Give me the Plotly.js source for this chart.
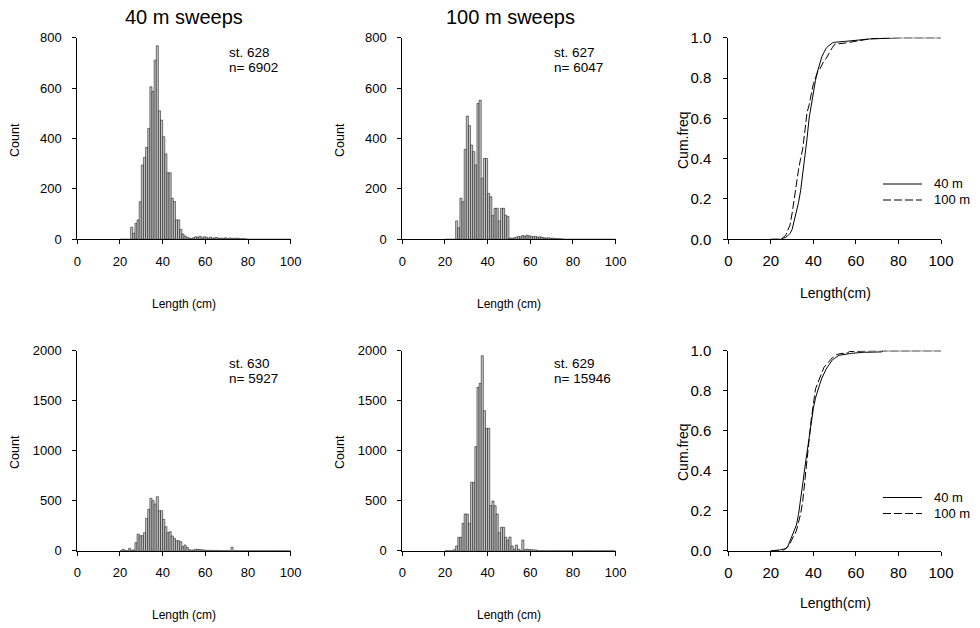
<!DOCTYPE html>
<html><head><meta charset="utf-8">
<script src="https://cdn.plot.ly/plotly-3.0.1.min.js"></script>
<style>html,body{margin:0;padding:0;background:#fff}#chart{width:980px;height:628px}</style>
</head><body><div id="chart"></div>
<script>
// Length bins (left edge, cm), 1 cm wide
const lengths = [20,21,22,23,24,25,26,27,28,29,30,31,32,33,34,35,36,37,38,39,
                 40,41,42,43,44,45,46,47,48,49,50,51,52,53,54,55,56,57,58,59,
                 60,61,62,63,64,65,66,67,68,69,70,71,72,73,74,75,76,77,78,79,
                 80,81,82,83,84,85,86,87,88,89,90,91,92,93,94,95,96,97,98,99];

// st. 628 (40 m sweeps, upper)
const st628 = [0,0,0,0,0, 48,24,63,77,149, 295,325,365,440,605, 587,711,768,510,473,
               407,339,264,264,163, 150,77,77,39,21, 13,8,5,3,6, 10,8,12,6,10,
               8,5,9,4,6, 7,3,5,4,6, 3,5,4,3,5, 4,2,3,2,1,
               0,0,0,0,0, 0,0,0,0,0, 0,0,0,0,0, 0,0,0,0,0];
// st. 627 (100 m sweeps, upper)
const st627 = [0,0,0,0,0, 73,46,163,149,357, 489,451,374,348,295, 539,552,242,321,321,
               182,169,94,123,123, 73,123,123,96,90, 5,4,6,8,12, 10,15,12,16,14,
               12,10,12,8,10, 8,6,5,6,4, 5,3,3,2,2, 1,0,0,0,0,
               0,0,0,0,0, 0,0,0,0,0, 0,0,0,0,0, 0,0,0,0,0];
// st. 630 (40 m sweeps, lower)
const st630 = [0,14,3,0,23, 5,8,80,167,150, 150,180,324,414,524, 500,467,540,400,400,
               314,240,180,190,147, 124,100,100,90,40, 57,34,10,5,8, 14,14,10,10,6,
               5,4,3,3,2, 3,2,0,2,0, 3,0,35,0,2, 0,0,0,0,0,
               0,0,0,0,0, 0,0,0,0,0, 0,0,0,0,0, 0,0,0,0,0];
// st. 629 (100 m sweeps, lower)
const st629 = [0,0,0,0,10, 47,134,134,274,367, 367,274,684,684,1040, 1634,1674,1950,1400,1224,
               1224,450,497,450,367, 180,234,234,134,107, 137,47,14,57,15, 3,107,10,15,12,
               10,8,8,3,0, 2,0,0,0,0, 0,0,0,0,0, 0,0,0,0,0,
               0,0,0,0,0, 0,0,0,0,0, 0,0,0,0,0, 0,0,0,0,0];

const stationLabels = ['st. 628', 'st. 627', 'st. 630', 'st. 629'];
const nLabels = ['n= 6902', 'n= 6047', 'n= 5927', 'n= 15946'];
const columnTitles = ['40 m sweeps', '100 m sweeps'];
const seriesNames = ['40 m', '100 m'];
const xTicks = [0, 20, 40, 60, 80, 100];
const countTicksTop = [0, 200, 400, 600, 800];
const countTicksBottom = [0, 500, 1000, 1500, 2000];
const cumTicks = [0, 0.2, 0.4, 0.6, 0.8, 1.0];

function cumulative(counts) {
  const total = counts.reduce((a, b) => a + b, 0);
  const x = [lengths[0]], y = [0];
  let c = 0;
  for (let i = 0; i < counts.length; i++) {
    c += counts[i];
    x.push(lengths[i] + 1);
    y.push(c / total);
  }
  return {x, y};
}

const FONT = 'Liberation Sans, Arial, sans-serif';
const barStyle = {color: '#c4c4c4', line: {color: '#000', width: 0.5}};
const DASH = '8px,3px';

function bar(counts, xa, ya) {
  return {type: 'bar', x: lengths, y: counts, width: 1, offset: 0,
          marker: barStyle, xaxis: xa, yaxis: ya, showlegend: false, hoverinfo: 'skip'};
}
function cumLine(counts, xa, ya, dash) {
  const c = cumulative(counts);
  return {type: 'scatter', mode: 'lines', x: c.x, y: c.y, xaxis: xa, yaxis: ya,
          line: {color: '#000', width: 1, dash: dash}, showlegend: false, hoverinfo: 'skip'};
}

const data = [
  bar(st628, 'x', 'y'),
  bar(st627, 'x2', 'y2'),
  cumLine(st628, 'x3', 'y3', 'solid'),
  cumLine(st627, 'x3', 'y3', DASH),
  bar(st630, 'x4', 'y4'),
  bar(st629, 'x5', 'y5'),
  cumLine(st630, 'x6', 'y6', 'solid'),
  cumLine(st629, 'x6', 'y6', DASH)
];

const W = 980, H = 628;
const px = v => v / W, py = v => 1 - v / H;
const colX = [[77.3, 290.7], [402.3, 615.6], [728.3, 941]];
const rowY = [[239.3, 37.7], [550.7, 350.7]];

function xax(col, fs, standoff) {
  return {domain: [px(colX[col][0]), px(colX[col][1])], range: [0, 100],
          tickvals: xTicks, ticks: 'outside', ticklen: 4, tickcolor: '#000',
          showline: true, linecolor: '#000', linewidth: 1, zeroline: false, showgrid: false,
          ticklabelstandoff: standoff, tickfont: {family: FONT, size: fs, color: '#000'}, fixedrange: true};
}
function yax(row, ticks, fmt, fs, standoff) {
  return {domain: [py(rowY[row][0]), py(rowY[row][1])], range: [ticks[0], ticks[ticks.length - 1]],
          tickvals: ticks, tickformat: fmt, ticks: 'outside', ticklen: 4, tickcolor: '#000',
          showline: true, linecolor: '#000', linewidth: 1, zeroline: false, showgrid: false,
          ticklabelstandoff: standoff, tickfont: {family: FONT, size: fs, color: '#000'}, fixedrange: true};
}

const ann = [];
function txt(text, x, y, size, opts) {
  ann.push(Object.assign({text, x: px(x), y: py(y), xref: 'paper', yref: 'paper', showarrow: false,
    xanchor: 'center', yanchor: 'middle', font: {family: FONT, size: size, color: '#000'}}, opts || {}));
}
// column titles
txt(columnTitles[0], 184, 17, 20);
txt(columnTitles[1], 510, 17, 20);
// station labels
const stPos = [[226.7, 52.7], [551.7, 52.7], [226.7, 363.5], [551.7, 363.5]];
stPos.forEach((p, i) => {
  txt(stationLabels[i], p[0], p[1], 13.5, {xanchor: 'left'});
  txt(nLabels[i], p[0], p[1] + 15, 13.5, {xanchor: 'left'});
});
// axis titles
[140, 452].forEach(yc => {
  txt('Count', 15, yc, 12.5, {textangle: -90});
  txt('Count', 340, yc, 12.5, {textangle: -90});
  txt('Cum.freq', 683, yc, 14, {textangle: -90});
});
[[304, 293], [615, 603]].forEach(r => {
  txt('Length (cm)', 184, r[0], 12);
  txt('Length (cm)', 509, r[0], 12);
  txt('Length(cm)', 835, r[1], 14);
});
// legends
const shapes = [];
[[184, 200], [497.5, 513.5]].forEach(r => {
  shapes.push({type: 'line', xref: 'paper', yref: 'paper', x0: px(883), x1: px(922), y0: py(r[0]), y1: py(r[0]),
               line: {color: '#000', width: 1}});
  shapes.push({type: 'line', xref: 'paper', yref: 'paper', x0: px(883), x1: px(922), y0: py(r[1]), y1: py(r[1]),
               line: {color: '#000', width: 1, dash: DASH}});
  txt(seriesNames[0], 932, r[0], 13, {xanchor: 'left'});
  txt(seriesNames[1], 932, r[1], 13, {xanchor: 'left'});
});

const HF = 13, CF = 15;
const layout = {
  width: W, height: H, margin: {l: 0, r: 0, t: 0, b: 0},
  paper_bgcolor: '#fff', plot_bgcolor: 'rgba(0,0,0,0)',
  font: {family: FONT, size: 12, color: '#000'},
  showlegend: false, bargap: 0,
  xaxis: Object.assign(xax(0, HF, 6), {anchor: 'y'}),
  yaxis: Object.assign(yax(0, countTicksTop, '', HF, 8), {anchor: 'x'}),
  xaxis2: Object.assign(xax(1, HF, 6), {anchor: 'y2'}),
  yaxis2: Object.assign(yax(0, countTicksTop, '', HF, 8), {anchor: 'x2'}),
  xaxis3: Object.assign(xax(2, CF, 4), {anchor: 'y3'}),
  yaxis3: Object.assign(yax(0, cumTicks, '.1f', CF, 9), {anchor: 'x3'}),
  xaxis4: Object.assign(xax(0, HF, 6), {anchor: 'y4'}),
  yaxis4: Object.assign(yax(1, countTicksBottom, '', HF, 8), {anchor: 'x4'}),
  xaxis5: Object.assign(xax(1, HF, 6), {anchor: 'y5'}),
  yaxis5: Object.assign(yax(1, countTicksBottom, '', HF, 8), {anchor: 'x5'}),
  xaxis6: Object.assign(xax(2, CF, 4), {anchor: 'y6'}),
  yaxis6: Object.assign(yax(1, cumTicks, '.1f', CF, 9), {anchor: 'x6'}),
  annotations: ann, shapes: shapes
};

Plotly.newPlot('chart', data, layout, {staticPlot: true, displayModeBar: false});
</script></body></html>
